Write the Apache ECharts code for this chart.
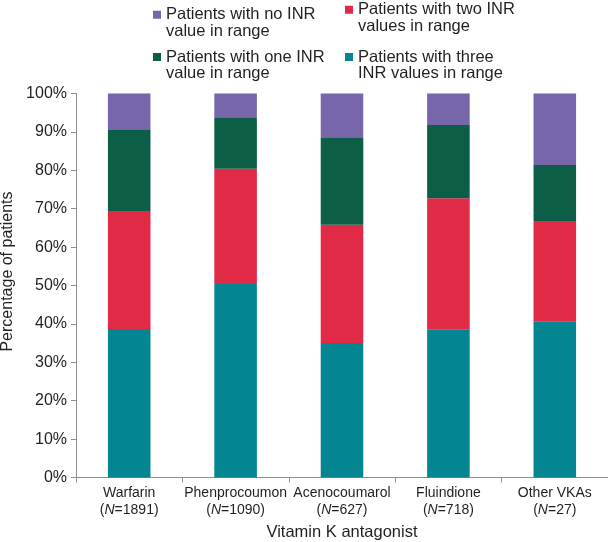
<!DOCTYPE html>
<html>
<head>
<meta charset="utf-8">
<script src="https://cdn.jsdelivr.net/npm/echarts@6/dist/echarts.min.js"></script>
<style>
html,body{margin:0;padding:0;background:#fff;overflow:hidden;}
#chart{width:608px;height:542px;}
</style>
</head>
<body>
<div id="chart"></div>
<script>
var categories = ['Warfarin', 'Phenprocoumon', 'Acenocoumarol', 'Fluindione', 'Other VKAs'];
var sampleSizes = ['1891', '1090', '627', '718', '27'];
var threeInRange = [38.7, 50.4, 35.0, 38.6, 40.7];
var twoInRange = [30.5, 30.0, 30.8, 34.1, 25.9];
var oneInRange = [21.3, 13.4, 22.8, 19.1, 14.8];
var noneInRange = [9.5, 6.2, 11.4, 8.2, 18.6];
var seriesNames = [
  'Patients with no INR\nvalue in range',
  'Patients with two INR\nvalues in range',
  'Patients with one INR\nvalue in range',
  'Patients with three\nINR values in range'
];
var colors = {
  none: '#7766A9',
  one: '#0C5E47',
  two: '#E02A46',
  three: '#038592'
};
var FONT = '"Liberation Sans", Arial, sans-serif';
var TEXT = '#231F20';

var chart = echarts.init(document.getElementById('chart'), null, {renderer: 'canvas'});

function legendAt(name, left, top) {
  return {
    data: [name],
    left: left,
    top: top,
    padding: 0,
    icon: 'rect',
    itemWidth: 8,
    itemHeight: 8,
    selectedMode: false,
    formatter: function (n) { return '{s|}\n' + n; },
    textStyle: {
      fontFamily: FONT,
      fontSize: 16.5,
      color: TEXT,
      lineHeight: 16.5,
      rich: {s: {fontSize: 16.5, lineHeight: 16.5}}
    }
  };
}

var option = {
  animation: false,
  backgroundColor: '#fff',
  legend: [
    legendAt(seriesNames[0], 153, -10.25),
    legendAt(seriesNames[1], 345, -15.25),
    legendAt(seriesNames[2], 153, 32),
    legendAt(seriesNames[3], 345, 32)
  ],
  grid: {left: 76, right: 0, top: 93.5, bottom: 64.5, containLabel: false, outerBoundsMode: 'none'},
  xAxis: {
    type: 'category',
    data: categories,
    name: 'Vitamin K antagonist',
    nameLocation: 'middle',
    nameGap: 46,
    nameTextStyle: {fontFamily: FONT, fontSize: 16.5, color: TEXT},
    axisLine: {lineStyle: {color: '#8E8E8E', width: 1}},
    axisTick: {show: true, length: 5, lineStyle: {color: '#8E8E8E'}},
    axisLabel: {
      interval: 0,
      hideOverlap: false,
      margin: 7,
      fontFamily: FONT,
      fontSize: 14,
      color: TEXT,
      lineHeight: 17,
      formatter: function (value, idx) {
        return value + '\n({i|N}=' + sampleSizes[idx] + ')';
      },
      rich: {
        i: {fontStyle: 'italic', fontFamily: FONT, fontSize: 14, color: TEXT, lineHeight: 17}
      }
    }
  },
  yAxis: {
    type: 'value',
    min: 0,
    max: 100,
    interval: 10,
    name: 'Percentage of patients',
    nameLocation: 'middle',
    nameRotate: 90,
    nameGap: 55,
    nameTextStyle: {fontFamily: FONT, fontSize: 16, color: TEXT, padding: [0, 0, 0, 28]},
    splitLine: {show: false},
    axisLine: {show: true, lineStyle: {color: '#8E8E8E', width: 1}},
    axisTick: {show: true, length: 5, lineStyle: {color: '#8E8E8E'}},
    axisLabel: {
      margin: 9,
      fontFamily: FONT,
      fontSize: 16,
      color: TEXT,
      formatter: '{value}%'
    }
  },
  series: [
    {name: seriesNames[3], type: 'bar', stack: 'total', data: threeInRange, barWidth: '40%', itemStyle: {color: colors.three}},
    {name: seriesNames[1], type: 'bar', stack: 'total', data: twoInRange, barWidth: '40%', itemStyle: {color: colors.two}},
    {name: seriesNames[2], type: 'bar', stack: 'total', data: oneInRange, barWidth: '40%', itemStyle: {color: colors.one}},
    {name: seriesNames[0], type: 'bar', stack: 'total', data: noneInRange, barWidth: '40%', itemStyle: {color: colors.none}}
  ]
};
chart.setOption(option);
</script>
</body>
</html>
